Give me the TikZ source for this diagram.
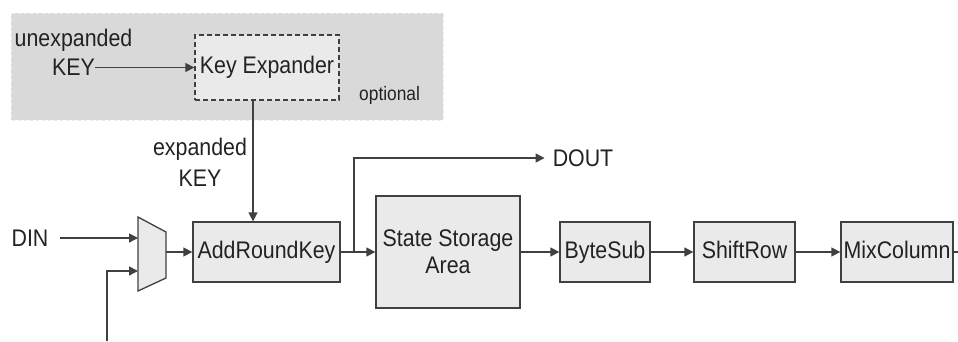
\documentclass[tikz,border=0pt]{standalone}
\usepackage{fontspec}
\setmainfont[FakeStretch=0.89]{Liberation Sans}
\usetikzlibrary{arrows.meta}
\definecolor{linegray}{HTML}{404040}
\definecolor{boxgray}{HTML}{EAEAEA}
\definecolor{areagray}{HTML}{D9D9D9}
\definecolor{txtgray}{HTML}{222222}
\begin{document}
\begin{tikzpicture}[x=1pt,y=-1pt,
  blk/.style={draw=linegray, line width=1.3pt, fill=boxgray, inner sep=0pt, text=txtgray, font=\fontsize{24}{27}\selectfont},
  blkline/.style={blk, text height=17.5pt, text depth=5pt},
  lbl/.style={inner sep=0pt, text=txtgray, font=\fontsize{24}{30}\selectfont},
  arr/.style={draw=linegray, line width=1.4pt, -{Triangle[length=9pt,width=9pt]}},
  wire/.style={draw=linegray, line width=1.4pt}]
\useasboundingbox (0,0) rectangle (958,341);
\path[fill=areagray, draw=areagray!50!white, dashed] (11,13) rectangle (443,120);
\node[blkline, dash pattern=on 5pt off 3pt, minimum width=144pt, minimum height=65pt] (ke) at (267,67.5) {Key Expander};
\node[blkline, minimum width=147pt, minimum height=60pt] (ark) at (266.5,252) {AddRoundKey};
\node[blk, align=center, minimum width=144pt, minimum height=112pt] (ss) at (448,252) {State Storage\\Area};
\node[blkline, minimum width=90pt, minimum height=60pt] (bs) at (605,252) {ByteSub};
\node[blkline, minimum width=101pt, minimum height=60pt] (sr) at (744.5,252) {ShiftRow};
\node[blkline, minimum width=112pt, minimum height=60pt] (mc) at (897,252) {MixColumn};
\node[lbl, anchor=base] (unexp) at (73.5,46.5) {unexpanded};
\node[lbl] (keyin) at (73.5,67.5) {KEY};
\node[lbl, anchor=base] (expl) at (200,155) {expanded};
\node[lbl, anchor=base] (expk) at (200,186) {KEY};
\node[lbl, font=\fontsize{19.5}{22}\selectfont, anchor=base west] (opt) at (359,100) {optional};
\node[lbl, inner xsep=11pt] (din) at (30,238) {DIN};
\node[lbl, inner xsep=8pt] (dout) at (583,158) {DOUT};
% multiplexer
\path[draw=linegray, line width=1.3pt, fill=boxgray] (138,217) -- (166,232) -- (166,278) -- (138,291) -- cycle;
\coordinate (mi1) at (138,238);
\coordinate (mi2) at (138,271);
\coordinate (mo) at (166,252);
\coordinate (fb) at (107,341);
\coordinate (br) at (354,252);
\coordinate (mcout) at (958,252);
\path[arr] (keyin) -- (ke);
\path[arr] ([xshift=-14pt]ke.south) -- ([xshift=-13.5pt]ark.north);
\path[arr] (din) -- (mi1);
\path[arr] (fb) |- (mi2);
\path[arr] (mo) -- (ark);
\path[arr] (ark) -- (ss);
\path[arr] (br) |- (dout);
\path[arr] (ss) -- (bs);
\path[arr] (bs) -- (sr);
\path[arr] (sr) -- (mc);
\path[wire] (mc) -- (mcout);
\end{tikzpicture}
\end{document}
